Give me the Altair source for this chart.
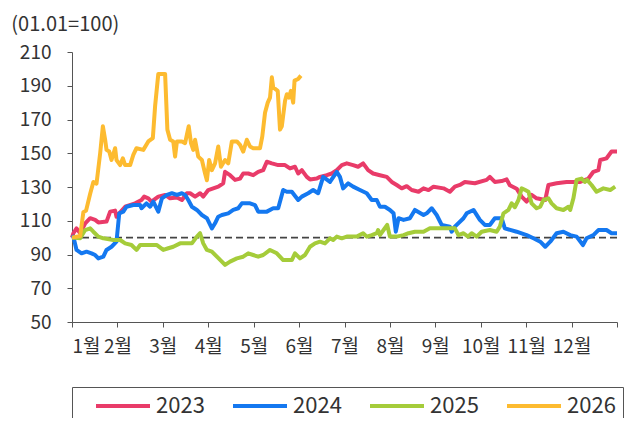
import altair as alt
import pandas as pd

FONT = "Noto Sans CJK KR"

years = ["2023", "2024", "2025", "2026"]
colors = ["#E93B69", "#1478F0", "#A5CC3A", "#FDBB30"]

# (month position from 1월 = 0, index value)
s2023 = [(0, 100), (0.03, 102.6), (0.10, 105.5), (0.18, 102.6), (0.29, 108.5), (0.40, 111.5),
         (0.51, 110.5), (0.58, 109), (0.76, 109.5), (0.84, 115.4), (0.95, 116), (0.98, 112.4),
         (1.04, 114.4), (1.17, 118.3), (1.39, 120.3), (1.53, 122.3), (1.59, 124.3), (1.68, 123.3),
         (1.75, 121.3), (1.90, 124.3), (2.05, 125.3), (2.16, 123.3), (2.31, 123.8), (2.42, 122.3),
         (2.53, 126.3), (2.60, 126.3), (2.71, 124.3), (2.82, 126.3), (2.89, 124.3), (3.00, 128.2),
         (3.11, 129.2), (3.22, 130.2), (3.33, 132.2), (3.37, 139), (3.48, 137), (3.59, 134.2),
         (3.70, 135), (3.77, 138), (3.88, 138), (3.99, 137), (4.10, 139), (4.21, 140), (4.29, 145),
         (4.40, 144), (4.54, 143), (4.69, 143), (4.80, 141), (4.91, 142), (4.98, 138), (5.06, 140),
         (5.17, 136), (5.24, 134.5), (5.39, 135), (5.46, 136), (5.61, 137), (5.72, 138), (5.83, 140),
         (5.94, 143), (6.05, 144), (6.19, 143), (6.30, 142), (6.41, 144), (6.52, 140), (6.63, 138),
         (6.78, 137), (6.93, 136), (7.04, 133), (7.15, 131.2), (7.26, 129.2), (7.37, 130.5),
         (7.48, 128.2), (7.63, 127.2), (7.74, 129.2), (7.85, 128.2), (7.96, 130.2), (8.18, 129.2),
         (8.32, 127.2), (8.43, 130.2), (8.54, 131.2), (8.65, 133), (8.87, 132.2), (9.13, 134.2),
         (9.20, 136), (9.31, 133), (9.46, 133.5), (9.57, 134.5), (9.64, 131), (9.79, 129),
         (9.90, 124.3), (10.01, 121.3), (10.12, 125.3), (10.23, 123.3), (10.42, 122.3),
         (10.49, 131.2), (10.67, 132.2), (10.89, 133), (11.19, 133), (11.37, 135), (11.48, 139),
         (11.59, 140), (11.63, 146), (11.77, 147), (11.88, 151), (12.0, 151)]

s2024 = [(0, 100), (0.03, 100.6), (0.10, 92.7), (0.21, 90.7), (0.32, 91.7), (0.43, 90.7),
         (0.51, 89.7), (0.58, 87.7), (0.69, 88.7), (0.76, 92.7), (0.87, 94.6), (0.98, 97.6),
         (1.04, 114.4), (1.13, 115.4), (1.20, 118.3), (1.35, 119.3), (1.50, 119.3), (1.53, 117.4),
         (1.64, 120.3), (1.72, 118.3), (1.79, 121.3), (1.90, 115.4), (1.98, 123.3), (2.09, 125.3),
         (2.20, 126.3), (2.31, 125.3), (2.42, 126.3), (2.49, 125.3), (2.56, 122.3), (2.64, 118.3),
         (2.75, 116.4), (2.86, 113.4), (2.97, 111.5), (3.08, 105.5), (3.15, 108.5), (3.22, 112.4),
         (3.30, 113.4), (3.44, 114.4), (3.55, 116.4), (3.66, 117.4), (3.74, 120.3), (3.92, 120.3),
         (4.03, 119.3), (4.10, 115.4), (4.29, 115.4), (4.43, 117.4), (4.54, 117.4), (4.65, 128.2),
         (4.73, 127.2), (4.84, 127.2), (4.98, 122.3), (5.06, 124.3), (5.20, 126.3), (5.31, 128.2),
         (5.42, 126.3), (5.53, 136), (5.68, 133), (5.83, 139), (5.90, 136), (5.97, 129.2),
         (6.08, 132.2), (6.19, 130.2), (6.34, 128.2), (6.49, 126.3), (6.60, 122.3), (6.71, 122.3),
         (6.78, 118.3), (6.89, 118.3), (7.00, 116.4), (7.08, 114.4), (7.13, 103.5), (7.19, 111.5),
         (7.30, 110.5), (7.44, 111.5), (7.55, 116.4), (7.74, 113.4), (7.81, 114.4), (7.92, 117.4),
         (8.03, 113.4), (8.14, 107.5), (8.32, 106.5), (8.36, 103.5), (8.43, 106.5), (8.62, 111.5),
         (8.69, 114.4), (8.84, 116.4), (8.98, 110.5), (9.09, 107.5), (9.20, 107.5), (9.31, 111.5),
         (9.46, 111.5), (9.53, 105.5), (9.79, 103.5), (10.01, 101.5), (10.16, 99.6), (10.31, 97.6),
         (10.42, 94.6), (10.53, 97.6), (10.67, 102.6), (10.82, 103.5), (10.97, 101.5),
         (11.11, 100.6), (11.25, 95.6), (11.33, 99.6), (11.48, 101.5), (11.59, 104.5),
         (11.77, 104.5), (11.88, 102.6), (12.0, 102.6)]

s2025 = [(0, 100), (0.18, 99.6), (0.29, 104.5), (0.40, 105.5), (0.47, 103.5), (0.58, 100.6),
         (0.69, 99.6), (0.91, 98.6), (1.06, 98.6), (1.17, 96.6), (1.31, 95.6), (1.42, 92.7),
         (1.50, 95.6), (1.64, 95.6), (1.87, 95.6), (2.01, 92.7), (2.12, 93.7), (2.23, 94.6),
         (2.38, 96.6), (2.64, 96.6), (2.75, 100.6), (2.82, 102.6), (2.89, 96.6), (2.97, 92.7),
         (3.08, 91.7), (3.19, 88.7), (3.30, 85.8), (3.37, 83.8), (3.48, 85.8), (3.63, 87.7),
         (3.77, 88.7), (3.88, 90.7), (3.99, 89.7), (4.10, 88.7), (4.21, 89.7), (4.36, 92.7),
         (4.51, 90.7), (4.65, 86.7), (4.84, 86.7), (4.91, 90.7), (5.02, 87.7), (5.13, 89.7),
         (5.24, 94.6), (5.35, 96.6), (5.46, 97.6), (5.57, 96.6), (5.68, 99.6), (5.75, 98.6),
         (5.83, 100.6), (5.94, 99.6), (6.05, 100.6), (6.27, 100.6), (6.41, 102.6), (6.49, 100.6),
         (6.60, 101.5), (6.71, 102.6), (6.74, 104.5), (6.78, 101.5), (6.86, 104.5), (6.94, 107.5),
         (7.00, 100.6), (7.15, 100.6), (7.30, 101.5), (7.41, 102.6), (7.55, 103.5), (7.74, 103.5),
         (7.88, 105.5), (8.43, 105.5), (8.51, 101.5), (8.62, 102.6), (8.72, 100.6), (8.80, 102.6),
         (8.91, 100.6), (9.02, 103.5), (9.20, 104.5), (9.35, 103.5), (9.42, 106.5), (9.50, 114.4),
         (9.61, 116.4), (9.68, 120.3), (9.75, 118), (9.83, 122.3), (9.90, 129.2), (9.98, 128.2),
         (10.05, 127.2), (10.12, 120.3), (10.23, 117.4), (10.31, 118.3), (10.38, 122.3),
         (10.49, 123.3), (10.56, 120.3), (10.67, 117.4), (10.82, 116.4), (10.93, 118.3),
         (10.97, 116.4), (11.04, 123.3), (11.11, 134.2), (11.22, 135), (11.29, 133), (11.34, 134.2),
         (11.44, 131.2), (11.55, 127.2), (11.70, 129.2), (11.85, 128.2), (11.96, 130.2)]

s2026 = [(0, 100), (0.18, 101), (0.25, 115), (0.31, 116), (0.40, 126), (0.47, 133), (0.54, 132),
         (0.62, 150), (0.68, 166), (0.73, 158), (0.76, 152), (0.82, 151), (0.87, 146), (0.95, 153),
         (0.98, 146), (1.06, 143), (1.12, 147), (1.17, 143), (1.28, 143), (1.35, 149), (1.42, 153),
         (1.57, 152), (1.68, 157), (1.78, 159), (1.83, 178), (1.90, 197), (2.05, 197), (2.10, 164),
         (2.16, 158), (2.23, 157), (2.27, 148), (2.31, 157), (2.42, 157), (2.49, 156), (2.57, 166),
         (2.62, 156), (2.67, 152), (2.71, 158), (2.78, 148), (2.86, 146), (2.93, 138), (2.97, 134),
         (3.02, 146), (3.08, 140), (3.15, 144), (3.22, 154), (3.28, 142), (3.37, 146), (3.44, 144),
         (3.52, 157), (3.63, 157), (3.70, 155), (3.77, 151), (3.85, 158), (3.92, 154), (3.99, 153),
         (4.14, 153), (4.19, 160), (4.25, 174), (4.31, 180), (4.36, 183), (4.40, 195), (4.43, 189),
         (4.53, 187), (4.58, 164), (4.62, 166), (4.69, 181), (4.73, 185), (4.78, 183), (4.82, 187),
         (4.87, 180), (4.90, 193), (4.98, 194), (5.04, 196)]

month_ticks = list(range(13))
y_ticks = list(range(50, 211, 20))

rows = []
for yr, pts in zip(years, [s2023, s2024, s2025, s2026]):
    for m, v in pts:
        rows.append({"m": m, "v": v, "year": yr})
df = pd.DataFrame(rows)

x_enc = alt.X("m:Q",
              scale=alt.Scale(domain=[0, 12], nice=False, zero=False),
              axis=alt.Axis(values=month_ticks, title=None, grid=False, labelOverlap=False,
                            labelExpr="datum.value < 12 ? (datum.value + 1) + '월' : ''"))
y_enc = alt.Y("v:Q",
              scale=alt.Scale(domain=[50, 210], nice=False, zero=False),
              axis=alt.Axis(values=y_ticks, title=None, grid=False, labelOverlap=False))

lines = alt.Chart(df).mark_line(strokeWidth=4, strokeJoin="round").encode(
    x=x_enc,
    y=y_enc,
    color=alt.Color("year:N",
                    scale=alt.Scale(domain=years, range=colors),
                    legend=alt.Legend(title=" ", titleOrient="left", titleFontSize=10,
                                      titlePadding=32,
                                      orient="none", legendX=0, legendY=335,
                                      direction="horizontal", columns=4,
                                      symbolType="M-2.7,0H2.7", symbolSize=400,
                                      symbolStrokeWidth=4, labelFont=FONT,
                                      labelFontSize=22, labelColor="#333",
                                      labelOffset=21, columnPadding=20,
                                      labelExpr="datum.label + '   '",
                                      strokeColor="#555", padding=7)),
)

ref = alt.Chart(pd.DataFrame({"v": [100]})).mark_rule(
    color="#444", strokeDash=[7, 4], strokeWidth=1.8
).encode(y=y_enc)

chart = alt.layer(ref, lines).properties(
    width=545, height=270,
    autosize=alt.AutoSizeParams(type="none"),
    padding={"left": 64, "top": 44, "right": 7, "bottom": 96},
    title=alt.TitleParams("(01.01=100)", anchor="start", dx=-8, font=FONT,
                          fontSize=20, fontWeight="normal", color="#333", offset=8),
).configure_axis(
    labelFont=FONT, labelFontSize=19, labelColor="#333", labelOverlap=False,
    domainColor="#555", tickColor="#555", tickSize=5, domainWidth=1, tickWidth=1,
).configure_axisY(labelPadding=16).configure_axisX(labelPadding=10).configure_view(stroke=None)

chart.save("out.html", embed_options={"renderer": "svg", "actions": False})
